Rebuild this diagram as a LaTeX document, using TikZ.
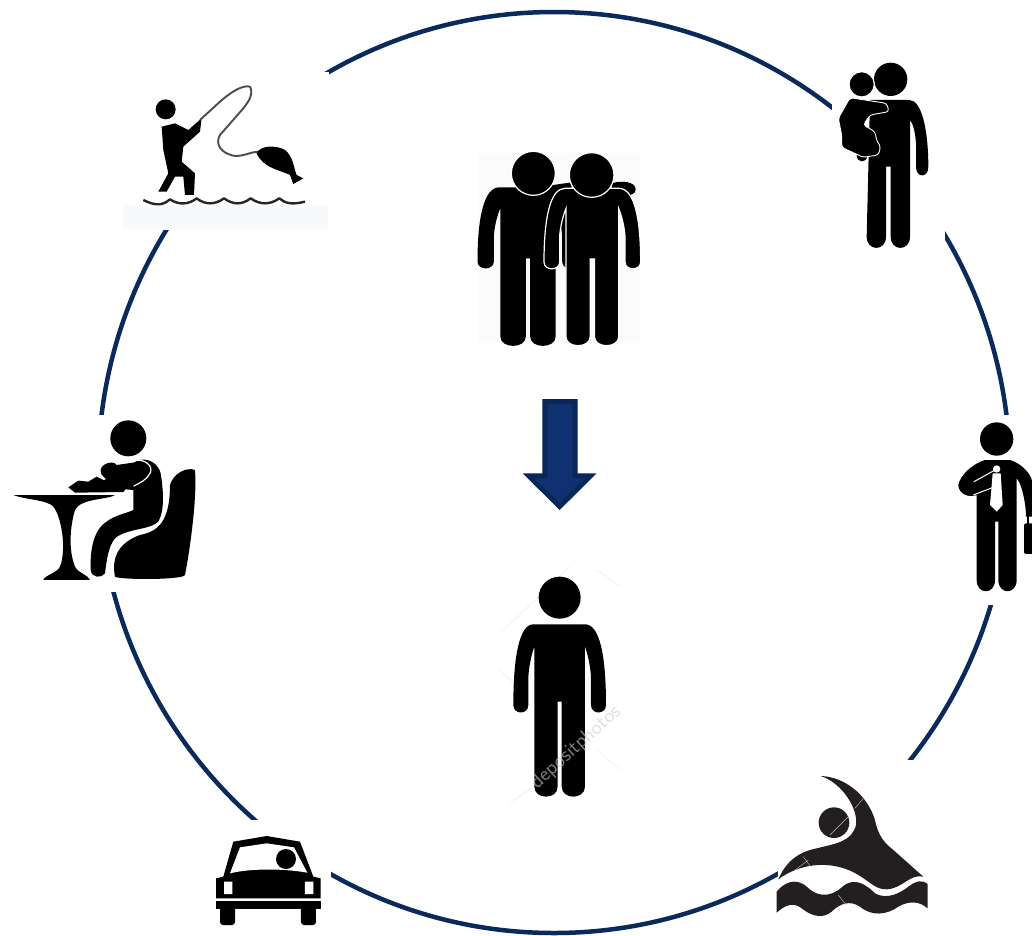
\documentclass[tikz,border=0pt]{standalone}
\usetikzlibrary{calc}
\definecolor{ringblue}{HTML}{0B2A5C}
\definecolor{arrowout}{HTML}{0A2558}
\definecolor{arrowin}{HTML}{0F3170}
\definecolor{swimblack}{HTML}{231F20}
\definecolor{wash}{HTML}{F8F9FB}
\tikzset{
  zm/.style 2 args={shift={(#1pt,-#2pt)},x=.3333pt,y=-.3333pt},
  ink/.style={fill=black},
  halo/.style={fill=black,draw=white,line width=1.2pt},
  cover/.style={fill=white,draw=none},
  rod/.style={draw=black!70,line width=1.9pt,line join=round},
  mark line/.style={draw=black!6,line width=.7pt},
}
% standing figure, centre at x=0, shoulders at y=0, in zoom units
\newcommand\manbody{(-79,0) -- (76,0) .. controls (121,0) and (139,97) .. (139,242) .. controls (139,272) and (94,272) .. (94,242) -- (94,157) .. controls (91,117) and (83,87) .. (76,67) -- (76,487) .. controls (76,527) and (6,527) .. (6,487) -- (6,232) -- (-6,232) -- (-6,487) .. controls (-6,527) and (-76,527) .. (-76,487) -- (-76,67) .. controls (-83,87) and (-91,117) .. (-94,157) -- (-94,242) .. controls (-94,272) and (-139,272) .. (-139,242) .. controls (-139,97) and (-121,0) .. (-79,0) -- cycle}
\begin{document}
\begin{tikzpicture}[x=1pt,y=-1pt]
\useasboundingbox (0,0) rectangle (1032,935);
\fill[white] (0,0) rectangle (1032,935);
\clip (0,0) rectangle (1032,935);

% ring
\draw[ringblue,line width=4.5pt] (554,472.5) ellipse[x radius=456,y radius=460.5];
% gaps in the ring behind the icons
\fill[cover] (125,72) rectangle (329,230);
\fill[cover] (832,60) rectangle (945,250);
\fill[cover] (12,415) rectangle (197,592);
\fill[cover] (955,415) rectangle (1032,605);
\fill[cover] (200,820) rectangle (331,935);
\fill[cover] (778,760) rectangle (930,935);

% couple, centre top
\begin{scope}[zm={470}{140}]
  \fill[black!1.5] (25,40) rectangle (510,610);
  \begin{scope}[shift={(174,142)},xscale=1.09,yscale=.92]
    \fill[ink] \manbody;
  \end{scope}
  \fill[ink] (170,140) -- (250,135) -- (305,127) -- (305,165) -- (170,175) -- cycle;
  \fill[ink] (425,130) .. controls (455,120) and (497,125) .. (497,148) .. controls (497,170) and (455,170) .. (425,165) -- cycle;
  \begin{scope}[shift={(367,145)},xscale=1.043,yscale=.913]
    \path[halo] \manbody;
  \end{scope}
  \path[halo] (190,100) circle[radius=66];
  \path[halo] (365,105) circle[radius=67];
\end{scope}

% arrow
\begin{scope}[zm={490}{390}]
  \fill[arrowout] (157,27) -- (263,27) -- (263,250) -- (320,250) -- (209,360) -- (98,250) -- (157,250) -- cycle;
  \fill[arrowin] (172,42) -- (248,42) -- (248,265) -- (285,265) -- (209,338) -- (133,265) -- (172,265) -- cycle;
\end{scope}

% single figure, centre bottom
\begin{scope}[zm={490}{390}]
  \draw[mark line] (30,730) -- (240,530) (320,540) -- (392,590) (30,840) -- (70,880) (320,1080) -- (390,1140) (60,1240) -- (130,1190);
  \path[ink] (209,623) circle[radius=63];
  \begin{scope}[shift={(209,703)}]
    \fill[ink] \manbody;
  \end{scope}
  \node[rotate=42,text=black!20,text opacity=.6,font=\sffamily\fontsize{21}{21}\selectfont,inner sep=0pt] (mark) at (258,1072) {depositphotos};
\end{scope}

% fisherman
\begin{scope}[zm={120}{70}]
  \fill[wash] (10,405) rectangle (625,478);
  \fill[ink] (137,118) circle[radius=30];
  \fill[ink] (125,170) -- (165,160) -- (205,180) -- (245,145) -- (240,185) -- (190,230) -- (185,275) -- (225,310) -- (222,375) -- (195,375) -- (190,320) -- (165,320) -- (140,365) -- (115,365) -- (145,310) -- (130,240) -- cycle;
  \draw[rod] (240,150) -- (300,95) .. controls (340,60) and (370,45) .. (390,50) .. controls (400,70) and (390,90) .. (370,115) -- (300,195) .. controls (285,220) and (300,250) .. (345,258) .. controls (375,258) and (395,245) .. (415,245);
  \fill[ink] (410,250) .. controls (420,225) and (470,225) .. (495,240) .. controls (520,260) and (520,290) .. (530,315) -- (550,325) -- (520,342) -- (510,315) .. controls (480,300) and (430,295) .. (410,250) -- cycle;
  \draw[black!85,line width=2.4pt,line join=round] (70,390) .. controls (110,410) and (130,405) .. (150,388) .. controls (175,405) and (205,405) .. (230,385) .. controls (255,405) and (285,405) .. (312,385) .. controls (340,405) and (365,405) .. (392,385) .. controls (420,405) and (450,405) .. (478,385) .. controls (495,400) and (515,405) .. (555,395);
\end{scope}

% father with child
\begin{scope}[zm={820}{50}]
  \fill[ink] (150,150) -- (268,150) .. controls (305,150) and (325,240) .. (325,350) .. controls (325,385) and (288,385) .. (288,350) -- (288,280) .. controls (285,240) and (278,220) .. (270,210) -- (270,560) .. controls (270,605) and (212,605) .. (212,560) -- (212,350) -- (198,350) -- (198,560) .. controls (198,605) and (140,605) .. (140,560) -- cycle;
  \fill[ink] (212,88) circle[radius=50];
  \fill[ink] (110,315) .. controls (110,340) and (140,340) .. (142,318) -- cycle;
  \path[halo,rounded corners=3pt,line width=.9pt] (90,143) -- (200,160) -- (207,185) -- (150,195) -- (130,225) -- (165,245) -- (170,272) -- (182,290) -- (175,315) -- (130,322) -- (65,292) -- (65,255) -- (55,205) -- cycle;
  \path[halo] (125,103) circle[radius=38];
\end{scope}

% diner
\begin{scope}[zm={0}{410}]
  % chair
  \fill[ink] (510,225) .. controls (520,190) and (560,170) .. (585,180) .. controls (592,260) and (570,420) .. (555,495) .. controls (550,510) and (360,510) .. (345,500) .. controls (335,450) and (350,400) .. (420,375) .. controls (470,365) and (510,340) .. (510,225) -- cycle;
  % table
  \fill[ink] (40,255) -- (345,255) .. controls (330,268) and (240,265) .. (225,300) .. controls (210,350) and (205,420) .. (225,470) .. controls (235,490) and (265,495) .. (270,510) -- (130,510) .. controls (135,495) and (170,490) .. (180,470) .. controls (200,420) and (185,320) .. (160,290) .. controls (145,270) and (70,268) .. (40,255) -- cycle;
  % plate and food
  \fill[ink] (205,232) -- (235,212) -- (265,215) -- (290,200) -- (320,215) -- (385,225) -- (370,246) -- (225,248) -- cycle;
  % person
  \fill[ink] (385,85) circle[radius=54];
  \fill[ink] (400,160) .. controls (420,140) and (470,145) .. (482,190) .. controls (490,240) and (495,300) .. (475,335) .. controls (450,360) and (380,355) .. (345,385) .. controls (325,410) and (320,450) .. (315,490) .. controls (305,505) and (275,505) .. (272,480) .. controls (270,420) and (280,360) .. (320,335) .. controls (345,315) and (380,310) .. (400,300) -- (400,240) -- (340,235) -- (300,215) -- (350,195) -- (385,190) -- cycle;
  \fill[ink] (302,180) .. controls (305,160) and (340,150) .. (350,165) -- (420,155) .. controls (450,155) and (460,185) .. (440,205) -- (405,225) -- (320,215) .. controls (320,200) and (300,200) .. (302,180) -- cycle;
  \draw[white,line width=1.2pt,line cap=round] (405,152) .. controls (435,145) and (462,170) .. (450,190) .. controls (440,210) and (420,218) .. (402,228);
  \draw[white,line width=.7pt] (45,251) -- (345,251);
\end{scope}

% businessman
\begin{scope}[zm={940}{410}]
  \fill[ink] (170,87) circle[radius=50];
  \fill[ink] (135,150) -- (210,150) .. controls (245,160) and (276,195) .. (276,215) -- (276,320) -- (258,320) .. controls (258,280) and (245,220) .. (230,205) -- (230,510) .. controls (230,555) and (175,555) .. (175,510) -- (175,335) -- (165,335) -- (165,510) .. controls (165,555) and (110,555) .. (110,510) -- (110,255) .. controls (85,265) and (55,250) .. (55,225) .. controls (60,195) and (100,160) .. (135,150) -- cycle;
  \fill[ink,rounded corners=2pt] (252,340) -- (280,340) -- (280,432) -- (252,432) -- cycle;
  \draw[black,line width=2pt] (264,318) -- (264,342);
  \draw[white,line width=1pt,line cap=round] (102,215) -- (165,180) (100,255) -- (165,230);
  \fill[white] (170,177) circle[radius=11];
  \fill[white] (158,190) -- (182,190) -- (188,285) -- (170,305) -- (150,285) -- cycle;
\end{scope}

% car
\begin{scope}[zm={200}{820}]
  \fill[ink] (100,65) -- (200,48) -- (300,65) -- (340,170) -- (362,175) -- (362,235) -- (48,235) -- (48,175) -- (70,170) -- cycle;
  \fill[white] (120,82) -- (200,70) -- (282,82) -- (322,158) .. controls (250,145) and (150,145) .. (90,160) -- cycle;
  \fill[ink] (258,117) circle[radius=30];
  \fill[white] (72,185) rectangle (97,222) (315,185) rectangle (340,222);
  \fill[ink] (48,242) rectangle (362,266);
  \fill[ink,rounded corners=3pt] (60,260) -- (105,260) -- (105,315) -- (60,315) -- cycle;
  \fill[ink,rounded corners=3pt] (303,260) -- (348,260) -- (348,315) -- (303,315) -- cycle;
\end{scope}

% swimmer
\begin{scope}[zm={760}{760}]
  \fill[swimblack] (222,188) circle[radius=46];
  \fill[swimblack] (182,48) .. controls (250,50) and (320,100) .. (345,180) .. controls (355,230) and (375,250) .. (400,270) -- (490,350) .. controls (450,340) and (430,385) .. (380,388) .. controls (340,390) and (320,350) .. (260,328) .. controls (200,305) and (120,310) .. (55,358) .. controls (80,300) and (120,275) .. (170,265) .. controls (230,250) and (275,245) .. (288,195) .. controls (295,150) and (250,70) .. (182,48) -- cycle;
  \fill[swimblack] (50,395) .. controls (70,370) and (105,350) .. (140,380) .. controls (165,405) and (205,420) .. (250,378) .. controls (285,350) and (320,375) .. (345,400) .. controls (380,420) and (420,400) .. (445,380) .. controls (470,360) and (490,360) .. (503,372) -- (503,445) .. controls (480,425) and (450,420) .. (415,440) .. controls (380,465) and (335,470) .. (300,440) .. controls (270,420) and (240,430) .. (215,455) .. controls (185,480) and (150,465) .. (125,445) .. controls (100,425) and (75,435) .. (50,458) -- cycle;
  \draw[white!75!black,line width=.4pt] (210,225) -- (265,170) (285,145) -- (310,115) (105,330) -- (145,300) (130,290) -- (150,318) (235,405) -- (258,435);
\end{scope}
\end{tikzpicture}
\end{document}
